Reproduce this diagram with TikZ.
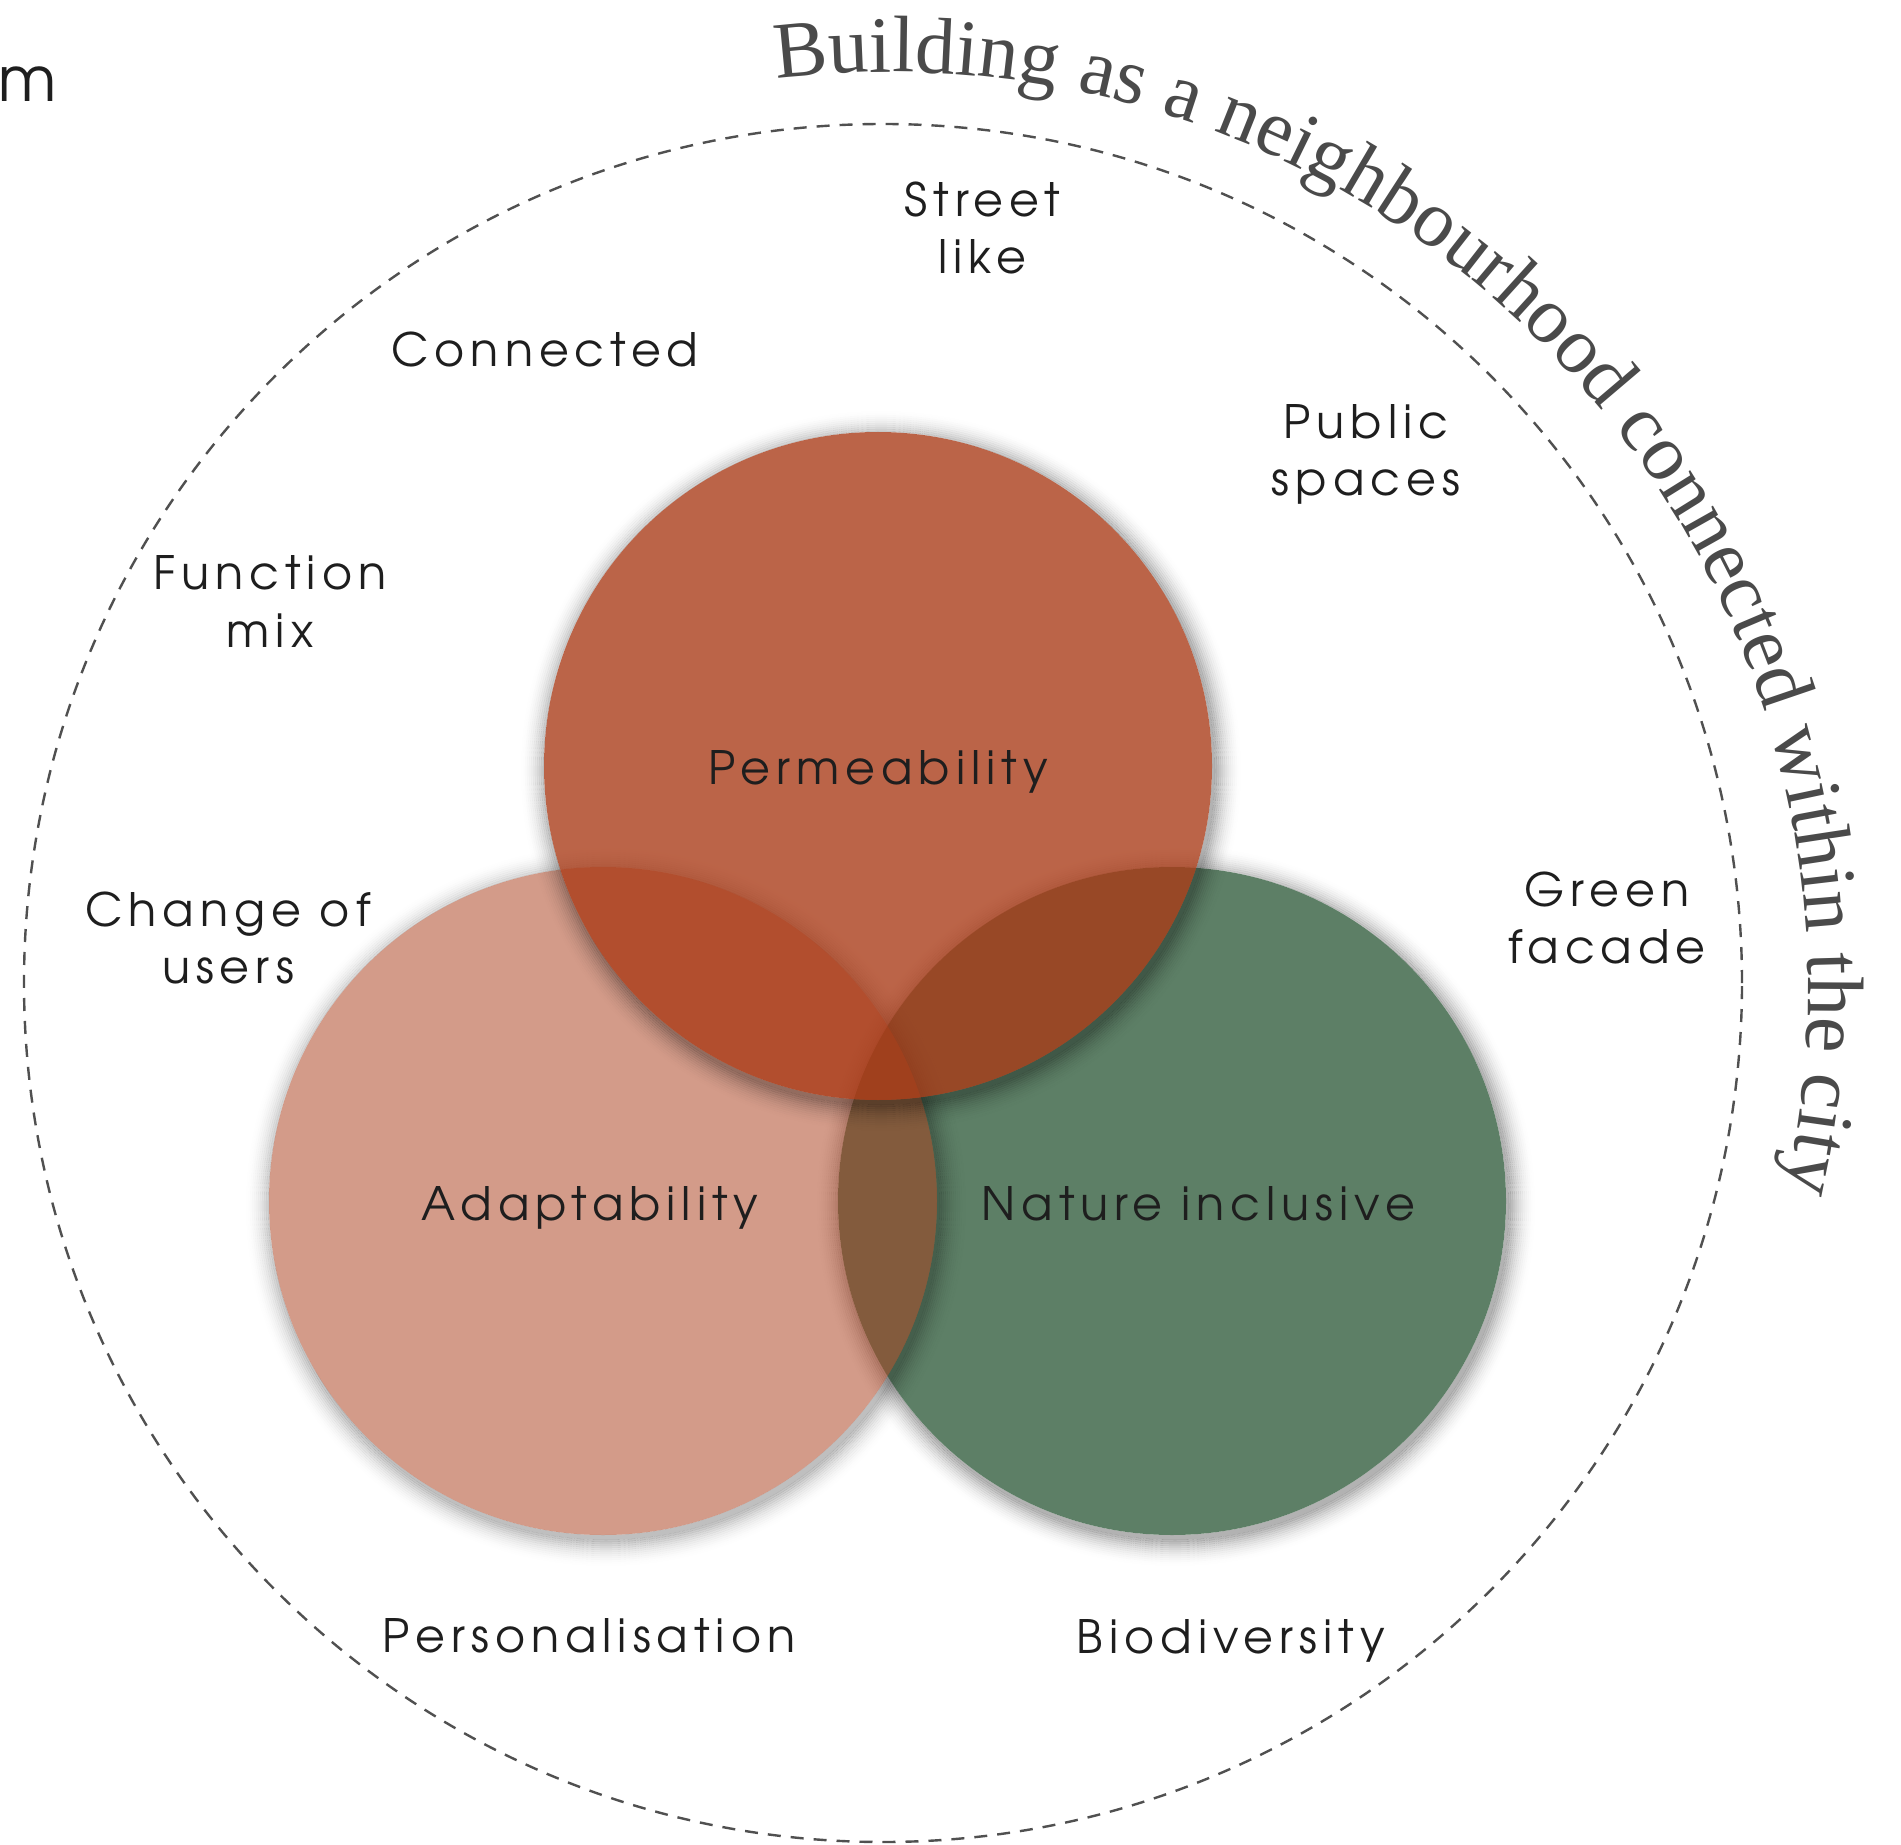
\documentclass[tikz,border=0pt]{standalone}
\usepackage{fontspec}
\usetikzlibrary{decorations.text,calc}
\newfontfamily\labfont{texgyreadventor-regular.otf}[LetterSpace=13]
\newfontfamily\bigfont{texgyreadventor-regular.otf}
\newfontfamily\arcfont{Liberation Serif}
\definecolor{rust}{RGB}{169,57,21}
\definecolor{natgreen}{RGB}{93,127,102}
\definecolor{labink}{RGB}{30,30,30}
\definecolor{curveink}{RGB}{74,74,74}
\definecolor{dashink}{RGB}{80,80,80}
\newcommand\twoline[2]{\vtop{\baselineskip=28.5pt\lineskiplimit=-100pt\halign{\hfil##\hfil\cr#1\cr#2\cr}}}
\newcommand\curvefont{\arcfont\fontsize{40}{44}\selectfont}
\newcommand\ringshadow[3]{%
  \begin{scope}[even odd rule]
    \clip (-50,50) rectangle (1950,-1900) (#1) circle[radius=#2];
    \fill[black, fill opacity=#3] ($(#1)+(3,-5)$) circle[radius=#2];
    \foreach \i in {1,...,14}{%
      \pgfmathsetmacro\op{#3*(1-(\i-0.5)/14)^2}%
      \draw[black, draw opacity=\op, line width=1.05pt] ($(#1)+(3,-5)$) circle[radius={#2+2*\i-1}];
    }
  \end{scope}}
\tikzset{
  lab/.style={font=\labfont\fontsize{23}{28.5}\selectfont, text=labink, inner sep=0pt, anchor=base},
  outerring/.style={draw=dashink, line width=1.2pt, dash pattern=on 6.5pt off 5pt},
}
\begin{document}
\begin{tikzpicture}[x=0.5pt,y=0.5pt]
\useasboundingbox (0,0) rectangle (1901,-1845);
\fill[white] (0,0) rectangle (1901,-1845);
\coordinate (outer) at (883,-983);
\coordinate (P) at (878,-766);
\coordinate (A) at (603,-1201);
\coordinate (N) at (1172,-1201);
\coordinate (ctext) at (890,-990);

\draw[outerring] (outer) circle[radius=859];

% Nature inclusive
\ringshadow{N}{334}{0.3}
\fill[natgreen] (N) circle[radius=334];
% Adaptability
\ringshadow{A}{334}{0.25}
\fill[rust, fill opacity=0.5] (A) circle[radius=334];
% Permeability
\ringshadow{P}{334}{0.3}
\fill[rust, fill opacity=0.78] (P) circle[radius=334];

\node[lab] (perm) at (878,-784) {Permeability};
\node[lab] (adapt) at (590,-1220) {Adaptability};
\node[lab] (nature) at (1198,-1220) {Nature inclusive};

\node[lab] (street) at (982,-217) {\twoline{Street}{like}};
\node[lab] (connected) at (545,-367) {Connected};
\node[lab] (public) at (1366,-439) {\twoline{Public}{spaces}};
\node[lab] (function) at (270,-590) {\twoline{Function}{mix}};
\node[lab] (change) at (228,-926) {\twoline{Change of}{users}};
\node[lab] (green) at (1607,-906) {\twoline{Green}{facade}};
\node[lab] (personal) at (589,-1652) {Personalisation};
\node[lab] (biodiv) at (1231,-1653) {Biodiversity};

\node[font=\bigfont\fontsize{31}{36}\selectfont, text=labink, inner sep=0pt, anchor=base west] (mfrag) at (-2,-102) {m};

\path[decorate, decoration={text along path,
   text={|\curvefont|Building as a neighbourhood connected within the city},
   text align={fit to path}, text color=curveink}]
   (ctext) ++(97.1:918) arc[start angle=97.1, end angle=-12.6, radius=918];
\end{tikzpicture}
\end{document}
